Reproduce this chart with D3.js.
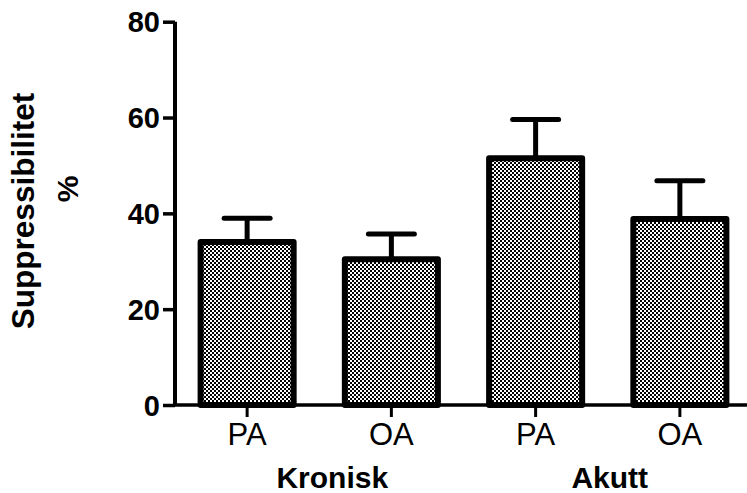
<!DOCTYPE html>
<html>
<head>
<meta charset="utf-8">
<script src="https://cdn.jsdelivr.net/npm/d3@7"></script>
<style>
  html, body { margin: 0; padding: 0; background: #fff; }
  svg { display: block; }
  text { font-family: Arial, "Liberation Sans", Helvetica, sans-serif; fill: #000; }
</style>
</head>
<body>
<svg id="chart" width="747" height="493"></svg>
<script>
// Suppressibility (%) by arthritis type, chronic vs acute; mean with SEM
const barKeys   = ["Kronisk-PA", "Kronisk-OA", "Akutt-PA", "Akutt-OA"];
const barLabels = ["PA", "OA", "PA", "OA"];
const groups    = ["Kronisk", "Akutt"];
const means     = [34.0, 30.4, 51.5, 38.8];
const sems      = [5.0, 5.3, 8.1, 8.0];
const yTicks    = [0, 20, 40, 60, 80];
const yTitle    = ["Suppressibilitet", "%"];

const svg = d3.select("#chart");

const x = d3.scaleBand().domain(barKeys).range([175, 752]).padding(0);
const y = d3.scaleLinear().domain([0, 80]).range([405, 21.7]);
const barW = x.bandwidth() * 0.645;
const cx = k => x(k) + x.bandwidth() / 2;

// checkered fill used by every bar
const defs = svg.append("defs");
const pat = defs.append("pattern")
  .attr("id", "dots").attr("patternUnits", "userSpaceOnUse")
  .attr("width", 4).attr("height", 4);
pat.append("rect").attr("width", 4).attr("height", 4).attr("fill", "#fff");
pat.append("rect").attr("x", 0).attr("y", 0).attr("width", 2).attr("height", 2).attr("fill", "#000");
pat.append("rect").attr("x", 2).attr("y", 2).attr("width", 2).attr("height", 2).attr("fill", "#000");

// error bars (upper only), drawn behind the bars
const err = svg.append("g").attr("stroke", "#000").attr("fill", "none");
barKeys.forEach((k, i) => {
  err.append("line")
    .attr("x1", cx(k)).attr("x2", cx(k))
    .attr("y1", y(means[i])).attr("y2", y(means[i] + sems[i]))
    .attr("stroke-width", 5);
  err.append("line")
    .attr("x1", cx(k) - 23).attr("x2", cx(k) + 23)
    .attr("y1", y(means[i] + sems[i])).attr("y2", y(means[i] + sems[i]))
    .attr("stroke-width", 5).attr("stroke-linecap", "round");
});

// bars
svg.append("g").selectAll("rect").data(barKeys).join("rect")
  .attr("x", k => cx(k) - barW / 2)
  .attr("width", barW)
  .attr("y", (k, i) => y(means[i]))
  .attr("height", (k, i) => y(0) - y(means[i]))
  .attr("fill", "url(#dots)")
  .attr("stroke", "#000")
  .attr("stroke-width", 6)
  .attr("stroke-linejoin", "round");

// y axis
const yAxis = svg.append("g").attr("transform", "translate(175,0)")
  .call(d3.axisLeft(y).tickValues(yTicks).tickSize(12).tickPadding(3));
yAxis.select(".domain").attr("stroke-width", 4).attr("d", `M0,${y(80)}V${y(0)}`);
yAxis.selectAll(".tick line").attr("stroke-width", 3.5);
yAxis.selectAll(".tick text")
  .style("font-size", "29px").style("font-weight", "bold")
  .style("font-family", "Arial, 'Liberation Sans', sans-serif").attr("dy", "0.35em");

// x axis
const xAxis = svg.append("g").attr("transform", `translate(0,${y(0)})`)
  .call(d3.axisBottom(x).tickSize(12).tickPadding(6).tickFormat((k, i) => barLabels[i]));
xAxis.select(".domain").attr("stroke-width", 3.5).attr("d", "M175,0H747");
xAxis.selectAll(".tick line").attr("stroke-width", 3);
xAxis.selectAll(".tick text")
  .style("font-size", "31px")
  .style("font-family", "Arial, 'Liberation Sans', sans-serif").attr("dy", "0.7em");

// group labels
const groupX = [
  (cx(barKeys[0]) + cx(barKeys[1])) / 2 + 13,
  (cx(barKeys[2]) + cx(barKeys[3])) / 2 + 2
];
svg.append("g").selectAll("text").data(groups).join("text")
  .attr("x", (d, i) => groupX[i]).attr("y", 488)
  .attr("text-anchor", "middle")
  .style("font-size", "30px").style("font-weight", "bold")
  .text(d => d);

// y title, two lines
svg.append("text")
  .attr("transform", "translate(34,211) rotate(-90)")
  .attr("text-anchor", "middle")
  .style("font-size", "31.5px").style("font-weight", "bold")
  .text(yTitle[0]);
svg.append("text")
  .attr("transform", "translate(78,189) rotate(-90)")
  .attr("text-anchor", "middle")
  .style("font-size", "30px").style("font-weight", "bold")
  .text(yTitle[1]);
</script>
</body>
</html>
